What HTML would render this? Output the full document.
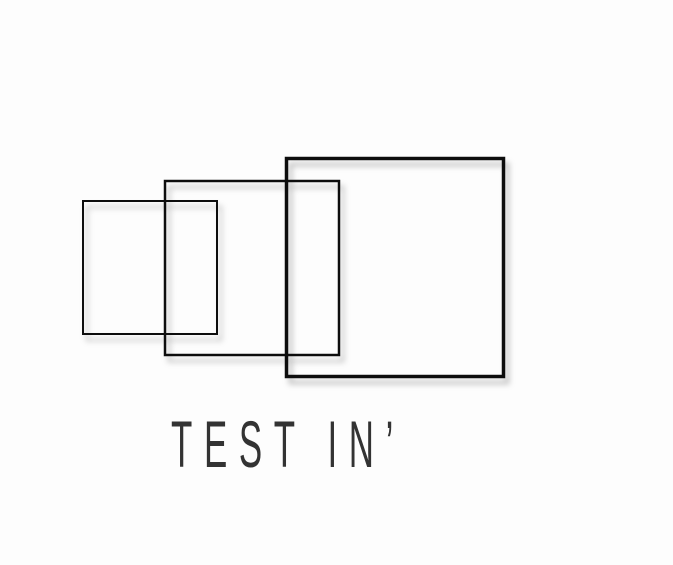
<!DOCTYPE html>
<html><head><meta charset="utf-8"><style>
html,body{margin:0;padding:0;background:#fff;width:673px;height:565px;overflow:hidden}
svg{display:block}
</style></head><body>
<svg width="673" height="565" viewBox="0 0 673 565">
<defs>
<filter id="sh" x="-20%" y="-20%" width="140%" height="140%">
<feDropShadow dx="4" dy="6" stdDeviation="3" flood-color="#000" flood-opacity="0.25"/>
</filter>
</defs>
<rect width="673" height="565" fill="#fdfdfd"/>
<g fill="none" stroke="#111" filter="url(#sh)">
<rect x="83" y="201" width="134" height="133" stroke-width="2"/>
<rect x="165" y="181" width="174" height="174" stroke-width="2.5"/>
<rect x="286.5" y="158.5" width="217" height="218" stroke-width="3.5"/>
</g>
<text x="171" y="467" font-family="'Liberation Sans Narrow','Liberation Sans',sans-serif" font-size="66" fill="#333" textLength="234" lengthAdjust="spacingAndGlyphs" transform="" style="letter-spacing:22px;font-weight:300">TEST IN’</text>
</svg>
</body></html>
